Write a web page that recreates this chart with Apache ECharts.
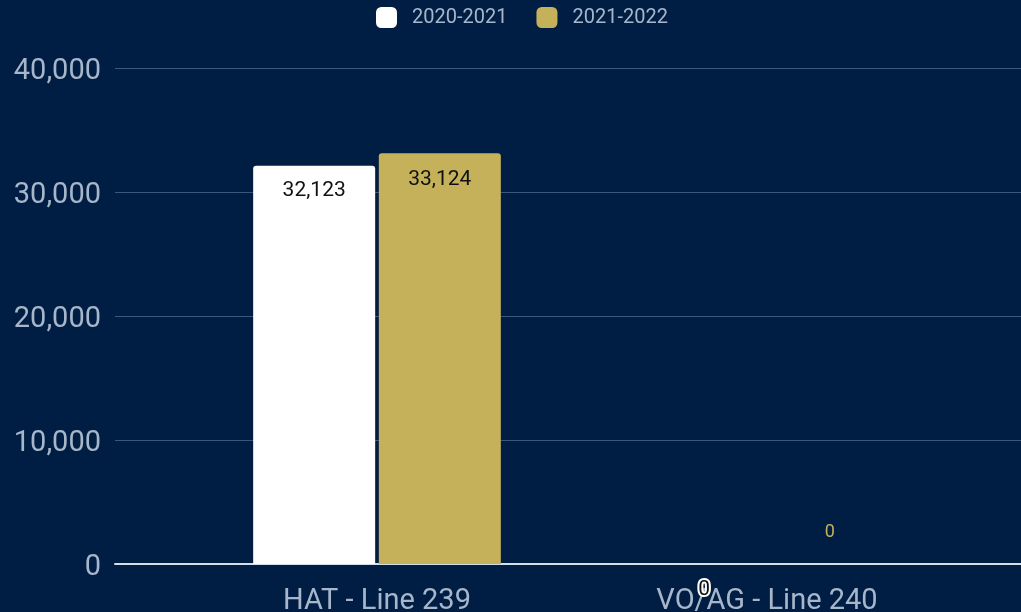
<!DOCTYPE html>
<html>
<head>
<meta charset="utf-8">
<script src="https://cdn.jsdelivr.net/npm/echarts@6/dist/echarts.min.js"></script>
<style>
  html, body { margin: 0; padding: 0; background: #001e44; }
  #chart { width: 1021px; height: 612px; }
</style>
</head>
<body>
<div id="chart"></div>
<script>
const categories = ["HAT - Line 239", "VO/AG - Line 240"];
const seriesNames = ["2020-2021", "2021-2022"];
const values2021 = [32123, 0];
const values2022 = [33124, 0];
const yTicks = { min: 0, max: 40000, interval: 10000 };

const WHITE = "#ffffff";
const GOLD = "#c4b15a";
const MUTED = "#a7b6ca";
const FONT = "Roboto, sans-serif";

const chart = echarts.init(document.getElementById("chart"));

// first series: 0 label lands below the axis with a white halo
const whiteData = values2021.map(function (v) {
  if (v === 0) {
    return { value: v, label: { textBorderColor: "#fff", textBorderWidth: 4 } };
  }
  return v;
});
// second series: 0 label sits above the axis in gold
const goldData = values2022.map(function (v) {
  if (v === 0) {
    return { value: v, label: { position: "top", distance: 23, color: GOLD, fontSize: 18 } };
  }
  return v;
});

const fmt = function (p) { return p.value.toLocaleString("en-US"); };

chart.setOption({
  backgroundColor: "#001e44",
  textStyle: { fontFamily: FONT },
  legend: {
    top: 2,
    left: 371,
    itemWidth: 21,
    itemHeight: 21,
    itemGap: 29,
    icon: "roundRect",
    textStyle: { color: MUTED, fontSize: 20, fontFamily: FONT, padding: [0, 0, 0, 10] },
    data: seriesNames
  },
  grid: [
    { left: 182, right: 59, top: 68, bottom: 48, outerBoundsMode: "none" },
    { left: 115, right: 0, top: 68, bottom: 48, outerBoundsMode: "none" }
  ],
  xAxis: [
    {
      type: "category",
      gridIndex: 0,
      data: categories,
      axisLine: { show: false },
      axisTick: { show: false },
      axisLabel: { color: MUTED, fontSize: 29, margin: 23, fontFamily: FONT }
    },
    {
      type: "value",
      gridIndex: 1,
      min: 0,
      max: 1,
      axisLine: { show: true, onZero: false, lineStyle: { color: "#d5dde8", width: 2 } },
      axisTick: { show: false },
      axisLabel: { show: false },
      splitLine: { show: false }
    }
  ],
  yAxis: [
    {
      type: "value",
      gridIndex: 0,
      min: yTicks.min,
      max: yTicks.max,
      interval: yTicks.interval,
      axisLabel: { show: false },
      axisLine: { show: false },
      axisTick: { show: false },
      splitLine: { show: false }
    },
    {
      type: "value",
      gridIndex: 1,
      min: yTicks.min,
      max: yTicks.max,
      interval: yTicks.interval,
      axisLine: { show: false },
      axisTick: { show: false },
      axisLabel: {
        color: MUTED,
        margin: 14,
        formatter: function (v) { return "{t|" + v.toLocaleString("en-US") + "}"; },
        rich: {
          t: { color: MUTED, fontSize: 29, fontFamily: FONT, padding: [8, 0, 0, 0] }
        }
      },
      splitLine: { lineStyle: { color: "#3a587a", width: 1 } }
    }
  ],
  series: [
    {
      name: seriesNames[0],
      type: "bar",
      xAxisIndex: 0,
      yAxisIndex: 0,
      data: whiteData,
      barWidth: 122,
      barGap: "3%",
      itemStyle: { color: WHITE, borderRadius: [3, 3, 0, 0] },
      label: {
        show: true,
        position: "insideTop",
        distance: 15,
        color: "#111",
        fontSize: 21,
        fontFamily: FONT,
        formatter: fmt
      }
    },
    {
      name: seriesNames[1],
      type: "bar",
      xAxisIndex: 0,
      yAxisIndex: 0,
      data: goldData,
      barWidth: 122,
      itemStyle: { color: GOLD, borderRadius: [3, 3, 0, 0] },
      label: {
        show: true,
        position: "insideTop",
        distance: 16,
        color: "#111",
        fontSize: 21,
        fontFamily: FONT,
        formatter: fmt
      }
    }
  ]
});
</script>
</body>
</html>
